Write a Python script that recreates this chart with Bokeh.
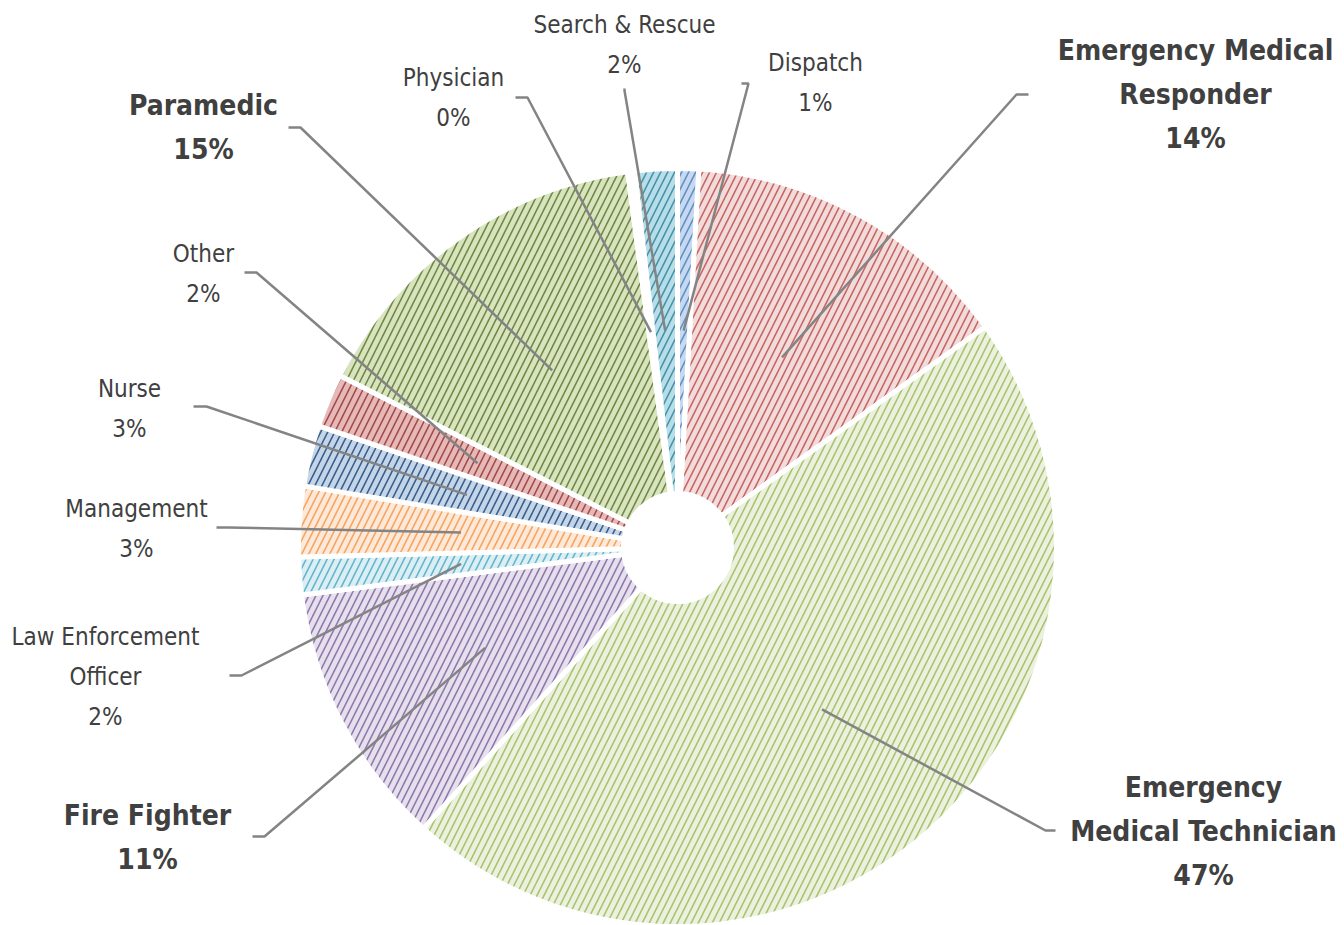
import numpy as np
from bokeh.plotting import figure
from bokeh.models import Range1d, ColumnDataSource
from bokeh.core.properties import value
from bokeh.embed import file_html
from bokeh.resources import INLINE

# ---------------- data ----------------
categories = ["Dispatch", "Emergency Medical Responder", "Emergency Medical Technician",
              "Fire Fighter", "Law Enforcement Officer", "Management", "Nurse", "Other",
              "Paramedic", "Physician", "Search & Rescue"]
shares = [0.9, 14.2, 46.6, 11.3, 1.6, 3.0, 2.6, 2.3, 15.4, 0.3, 1.8]

# ---------------- styles ----------------
fill_colors = ["#c6d9f1", "#f2dcdb", "#ebf1de", "#e5e0ec", "#dbeef4", "#fde9d9",
               "#c5d5e8", "#e6b9b8", "#d7e4bd", "#ffffff", "#b7dee8"]
hatch_colors = ["#4f81bd", "#c0504d", "#9bbb59", "#8064a2", "#4bacc6", "#f79646",
                "#1f497d", "#953735", "#5f7530", "#ffffff", "#31859c"]

# label layout (screen pixels): wrapped lines, center x, first-line y, bold
label_lines = {
    "Dispatch": ["Dispatch"],
    "Emergency Medical Responder": ["Emergency Medical", "Responder"],
    "Emergency Medical Technician": ["Emergency", "Medical Technician"],
    "Fire Fighter": ["Fire Fighter"],
    "Law Enforcement Officer": ["Law Enforcement", "Officer"],
    "Management": ["Management"],
    "Nurse": ["Nurse"],
    "Other": ["Other"],
    "Paramedic": ["Paramedic"],
    "Physician": ["Physician"],
    "Search & Rescue": ["Search & Rescue"],
}
label_pos = {
    "Dispatch": (815, 62, False),
    "Emergency Medical Responder": (1195, 50, True),
    "Emergency Medical Technician": (1203, 787, True),
    "Fire Fighter": (147, 815, True),
    "Law Enforcement Officer": (105, 636, False),
    "Management": (136, 508, False),
    "Nurse": (129, 388, False),
    "Other": (203, 253, False),
    "Paramedic": (203, 105, True),
    "Physician": (453, 77, False),
    "Search & Rescue": (624, 24, False),
}
leader_start = {
    "Dispatch": [(741, 83), (748, 83)],
    "Emergency Medical Responder": [(1028, 94), (1016, 94)],
    "Emergency Medical Technician": [(1055, 830), (1045, 830)],
    "Fire Fighter": [(252, 836), (264, 836)],
    "Law Enforcement Officer": [(229, 675), (241, 675)],
    "Management": [(216, 527), (228, 527)],
    "Nurse": [(193, 406), (206, 406)],
    "Other": [(244, 272), (256, 272)],
    "Paramedic": [(288, 127), (300, 127)],
    "Physician": [(515, 97), (527, 97)],
    "Search & Rescue": [(624, 88), (624, 90)],
}

W, H = 1344, 925
CX, CY_PX = 677, 547
CY = H - CY_PX
R_OUT, R_IN, R_LEAD = 379, 54, 217

FONT = "DejaVu Sans Condensed"
TEXT_COLOR = "#404040"

p = figure(width=W, height=H, output_backend="svg", toolbar_location=None,
           x_range=Range1d(0, W), y_range=Range1d(0, H),
           min_border=0, outline_line_color=None)
p.axis.visible = False
p.grid.visible = False
p.background_fill_color = "white"

vals = np.array(shares, dtype=float)
frac = vals / vals.sum()
cum_end = np.cumsum(frac)
cum_start = cum_end - frac
start_angle = np.pi / 2 - 2 * np.pi * cum_end
end_angle = np.pi / 2 - 2 * np.pi * cum_start
mid_angle = (start_angle + end_angle) / 2

src = ColumnDataSource(dict(
    start=start_angle, end=end_angle, fill=fill_colors, hatch=hatch_colors,
    x=[CX] * len(vals), y=[CY] * len(vals)))
p.annular_wedge(x="x", y="y", inner_radius=R_IN, outer_radius=R_OUT,
                start_angle="start", end_angle="end", source=src,
                fill_color="fill", hatch_color="hatch", hatch_pattern="/",
                hatch_scale=14, hatch_weight=1.6, hatch_alpha=0.85,
                line_color="white", line_width=5)

# leader lines
xs, ys = [], []
for i, c in enumerate(categories):
    pts = leader_start[c]
    ex = CX + R_LEAD * np.cos(mid_angle[i])
    ey = CY + R_LEAD * np.sin(mid_angle[i])
    xs.append([q[0] for q in pts] + [ex])
    ys.append([H - q[1] for q in pts] + [ey])
p.multi_line(xs, ys, line_color="#848484", line_width=2.5)

# labels
for bold in (False, True):
    tx, ty, tt = [], [], []
    for i, c in enumerate(categories):
        cx, y0, b = label_pos[c]
        if b != bold:
            continue
        lines = label_lines[c] + [f"{round(shares[i]):.0f}%"]
        gap = 44 if b else 40
        for k, ln in enumerate(lines):
            tx.append(cx)
            ty.append(H - (y0 + k * gap))
            tt.append(ln)
    p.text(tx, ty, text=tt, text_align="center", text_baseline="middle",
           text_font=value(FONT), text_font_size="28px" if bold else "24px",
           text_font_style="bold" if bold else "normal", text_color=TEXT_COLOR)

open("out.html", "w").write(file_html(p, INLINE))
